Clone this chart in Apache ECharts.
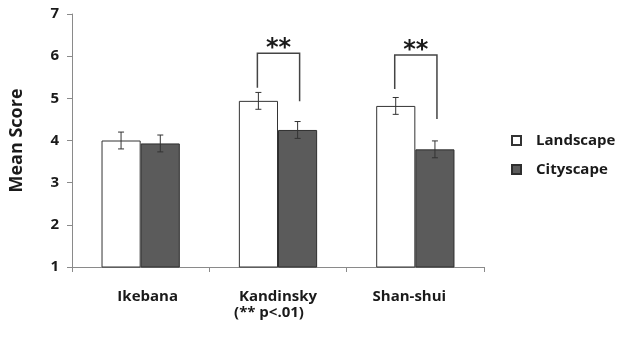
<!DOCTYPE html>
<html>
<head>
<meta charset="utf-8">
<script src="https://cdn.jsdelivr.net/npm/echarts@6/dist/echarts.min.js"></script>
<style>html,body{margin:0;padding:0;background:#fff;}#c{width:617px;height:338px;}</style>
</head>
<body>
<div id="c"></div>
<script>
var categories = ['Ikebana', 'Kandinsky', 'Shan-shui'];
var landscape = [4.00, 4.94, 4.82];
var cityscape = [3.93, 4.25, 3.79];
var landscapeErr = [0.20, 0.20, 0.20];
var cityscapeErr = [0.20, 0.20, 0.20];
var yTicks = [1, 2, 3, 4, 5, 6, 7];
// significance brackets: [categoryIndex, top, leftLegBottom, rightLegBottom]
var brackets = [[1, 6.07, 5.25, 4.93], [2, 6.03, 5.22, 4.51]];
var sigLabel = '**';

var FONT = 'Open Sans';
var TXT = '#1a1a1a';
var AX = '#8a8a8a';
var BAR_FRAC = 0.2857;

var errData = [];
for (var i = 0; i < categories.length; i++) {
  errData.push([i, landscape[i], landscapeErr[i], 0]);
  errData.push([i, cityscape[i], cityscapeErr[i], 1]);
}

var chart = echarts.init(document.getElementById('c'));
chart.setOption({
  animation: false,
  backgroundColor: '#fff',
  grid: { left: 71, right: 133, top: 14, bottom: 71 },
  legend: {
    data: ['Landscape', 'Cityscape'],
    orient: 'vertical',
    left: 511, top: 133, padding: 0,
    itemWidth: 9, itemHeight: 9, itemGap: 14,
    icon: 'rect',
    textStyle: { fontFamily: FONT, fontWeight: 'bold', fontSize: 15, color: TXT, padding: [0, 0, 0, 10] }
  },
  xAxis: {
    type: 'category',
    data: categories,
    axisLine: { lineStyle: { color: AX, width: 1 } },
    axisTick: { show: true, length: 5, lineStyle: { color: AX } },
    axisLabel: {
      margin: 22,
      interval: 0,
      formatter: function (v) {
        if (v === 'Kandinsky') return '{k|Kandinsky}\n{p|(** p<.01)}';
        if (v === 'Ikebana') return '{i|' + v + '}';
        return '{s|' + v + '}';
      },
      rich: {
        i: { fontFamily: FONT, fontWeight: 'bold', fontSize: 15, color: TXT, lineHeight: 16, padding: [0, 0, 0, 14] },
        k: { fontFamily: FONT, fontWeight: 'bold', fontSize: 15, color: TXT, lineHeight: 16, padding: [0, 0, 0, 0] },
        p: { fontFamily: FONT, fontWeight: 'bold', fontSize: 15, color: TXT, lineHeight: 16, padding: [0, 18, 0, 0] },
        s: { fontFamily: FONT, fontWeight: 'bold', fontSize: 15, color: TXT, lineHeight: 16, padding: [0, 12, 0, 0] }
      }
    }
  },
  yAxis: {
    type: 'value',
    min: yTicks[0], max: yTicks[yTicks.length - 1], interval: 1,
    name: 'Mean Score',
    nameLocation: 'middle',
    nameGap: 46,
    nameRotate: 90,
    nameTextStyle: { fontFamily: FONT, fontWeight: 'bold', fontSize: 18, color: TXT },
    axisLine: { show: true, lineStyle: { color: AX, width: 1 } },
    axisTick: { show: true, length: 5, lineStyle: { color: AX } },
    splitLine: { show: false },
    axisLabel: { margin: 13, fontFamily: FONT, fontWeight: 'bold', fontSize: 15, color: TXT }
  },
  series: [
    {
      name: 'Landscape', type: 'bar', data: landscape,
      barGap: '0%', barCategoryGap: '43%',
      itemStyle: { color: '#ffffff', borderColor: '#333333', borderWidth: 1 }
    },
    {
      name: 'Cityscape', type: 'bar', data: cityscape,
      itemStyle: { color: '#5b5b5b', borderColor: '#2e2e2e', borderWidth: 1 }
    },
    {
      type: 'custom', data: errData, z: 5,
      encode: { x: 0, y: 1 },
      renderItem: function (params, api) {
        var c = api.value(0), m = api.value(1), e = api.value(2), s = api.value(3);
        var band = api.size([1, 0])[0];
        var bw = band * BAR_FRAC;
        var off = (s === 0 ? -0.5 : 0.5) * bw;
        var hi = api.coord([c, m + e]);
        var lo = api.coord([c, m - e]);
        var x = hi[0] + off;
        var cap = 3;
        var st = { stroke: '#333', lineWidth: 1, fill: null };
        return {
          type: 'group',
          children: [
            { type: 'line', shape: { x1: x, y1: hi[1], x2: x, y2: lo[1] }, style: st },
            { type: 'line', shape: { x1: x - cap, y1: hi[1], x2: x + cap, y2: hi[1] }, style: st },
            { type: 'line', shape: { x1: x - cap, y1: lo[1], x2: x + cap, y2: lo[1] }, style: st }
          ]
        };
      }
    },
    {
      type: 'custom', data: brackets, z: 6,
      encode: { x: 0, y: 1 },
      renderItem: function (params, api) {
        var c = api.value(0);
        var band = api.size([1, 0])[0];
        var bw = band * BAR_FRAC;
        var top = api.coord([c, api.value(1)]);
        var lb = api.coord([c, api.value(2)]);
        var rb = api.coord([c, api.value(3)]);
        var xl = top[0] - bw / 2 - 1, xr = top[0] + bw / 2 + 2;
        return {
          type: 'group',
          children: [
            { type: 'polyline', shape: { points: [[xl, lb[1]], [xl, top[1]], [xr, top[1]], [xr, rb[1]]] },
              style: { stroke: '#444', lineWidth: 1.5, fill: null } },
            { type: 'text', style: { text: sigLabel, x: (xl + xr) / 2, y: top[1] + 8,
              align: 'center', verticalAlign: 'bottom', fontFamily: 'DejaVu Sans', fontWeight: 'bold',
              fontSize: 24, fill: '#1a1a1a' } }
          ]
        };
      }
    }
  ]
});
</script>
</body>
</html>
